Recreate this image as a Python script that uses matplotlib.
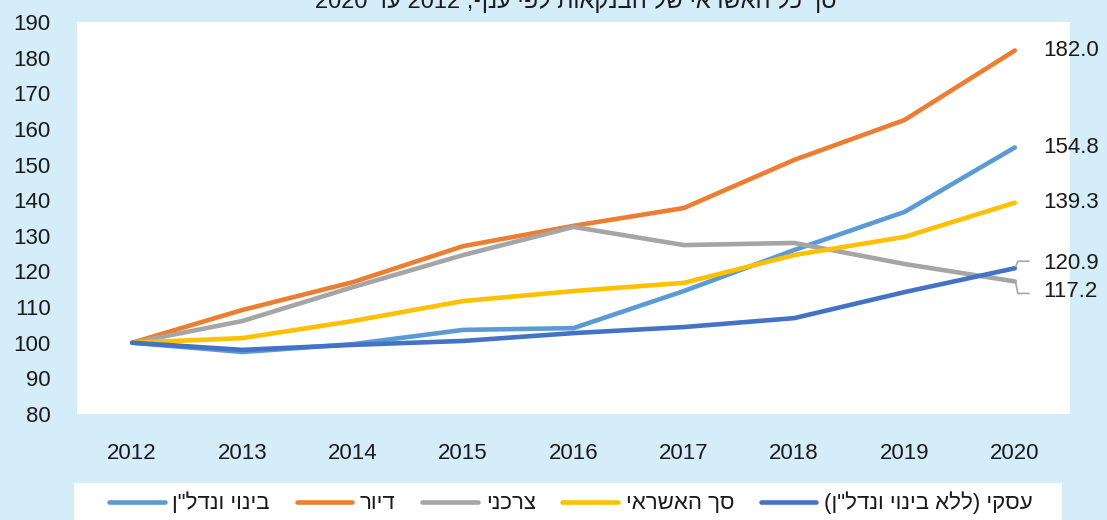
import matplotlib
matplotlib.use("Agg")
import matplotlib.pyplot as plt
from matplotlib.patches import Rectangle
from matplotlib.lines import Line2D

plt.rcParams['font.family'] = ['Liberation Sans', 'DejaVu Sans']

years = ['2012', '2013', '2014', '2015', '2016', '2017', '2018', '2019', '2020']
construction = [100, 97.4, 99.6, 103.6, 104.1, 114.5, 126.0, 136.7, 154.8]
housing = [100, 109.2, 117.0, 127.1, 132.8, 137.8, 151.3, 162.5, 182.0]
consumer = [100, 106.1, 115.6, 124.6, 132.5, 127.4, 128.0, 122.1, 117.2]
total_credit = [100, 101.3, 106.1, 111.7, 114.5, 116.8, 124.6, 129.7, 139.3]
business = [100, 98.0, 99.4, 100.5, 102.7, 104.4, 106.9, 114.2, 120.9]

series_names = ['בינוי ונדל"ן', 'דיור', 'צרכני', 'סך האשראי', 'עסקי (ללא בינוי ונדל"ן)']
series_values = [construction, housing, consumer, total_credit, business]
colors = ['#5B9BD5', '#ED7D31', '#A5A5A5', '#FFC000', '#4472C4']
end_labels = ['154.8', '182.0', '117.2', '139.3', '120.9']
yticks = [80, 90, 100, 110, 120, 130, 140, 150, 160, 170, 180, 190]


def rtl(s):
    out = s[::-1]
    return out.translate(str.maketrans('()', ')('))


W, H = 1107, 520
BG = '#D5EDF9'
fig = plt.figure(figsize=(W / 100, H / 100), dpi=100, facecolor=BG)

ax = fig.add_axes([77 / W, (H - 414) / H, 993 / W, 392 / H])
ax.set_facecolor('white')
for sp in ax.spines.values():
    sp.set_visible(False)

x = list(range(len(years)))
handles = []
for name, vals, c in zip(series_names, series_values, colors):
    ln, = ax.plot(x, vals, color=c, lw=3.3, solid_capstyle='round',
                  solid_joinstyle='round', label=rtl(name))
    handles.append(ln)
ax.set_xlim(-0.5, len(years) - 0.5)
ax.set_ylim(80, 190)
ax.set_yticks(yticks)
ax.set_yticklabels([str(t) for t in yticks])
ax.set_xticks(x)
ax.set_xticklabels(years)
ax.tick_params(axis='both', length=0, labelsize=16, colors='#1a1a1a')
ax.tick_params(axis='y', pad=19)
ax.tick_params(axis='x', pad=21)

# end labels
offsets_px = {'154.8': 0, '182.0': 0, '117.2': -10, '139.3': 0, '120.9': 5}
fig.canvas.draw()
for vals, lab in zip(series_values, end_labels):
    px, py = ax.transData.transform((x[-1], vals[-1]))
    dy = offsets_px[lab]
    fig.text((px + 28) / W, (py + dy) / H, lab, fontsize=16, color='#1a1a1a',
             ha='left', va='center')
    if dy != 0:
        sgn = 1 if dy > 0 else -1
        xs = [px + 1, px + 3, px + 14]
        ys = [py + sgn * 2, py + dy + sgn * 2, py + dy + sgn * 2]
        fig.add_artist(Line2D([a / W for a in xs], [b / H for b in ys],
                              transform=fig.transFigure, color='#A6A6A6', lw=1.2))

# title (partially cut off at top, as in the reference)
title_vis = '2020 ' + rtl('עד') + ' 2012 ' + rtl('סך כל האשראי של הבנקאות לפי ענף,')
fig.text(576 / W, (H - 1) / H, title_vis, fontsize=17, color='#1a1a1a',
         ha='center', va='center')

# legend box
fig.add_artist(Rectangle((74 / W, 0), (1062 - 74) / W, (H - 483) / H,
                         transform=fig.transFigure, facecolor='white',
                         edgecolor='none', zorder=1))
leg = fig.legend(handles=handles, labels=[rtl(n) for n in series_names],
                 loc='center', bbox_to_anchor=(571 / W, (H - 503) / H),
                 ncol=5, frameon=False, fontsize=16, handlelength=2.5,
                 handletextpad=0.35, columnspacing=1.2)
for t in leg.get_texts():
    t.set_color('#1a1a1a')
leg.set_zorder(5)

fig.savefig('out.png', dpi=100, facecolor=BG)
